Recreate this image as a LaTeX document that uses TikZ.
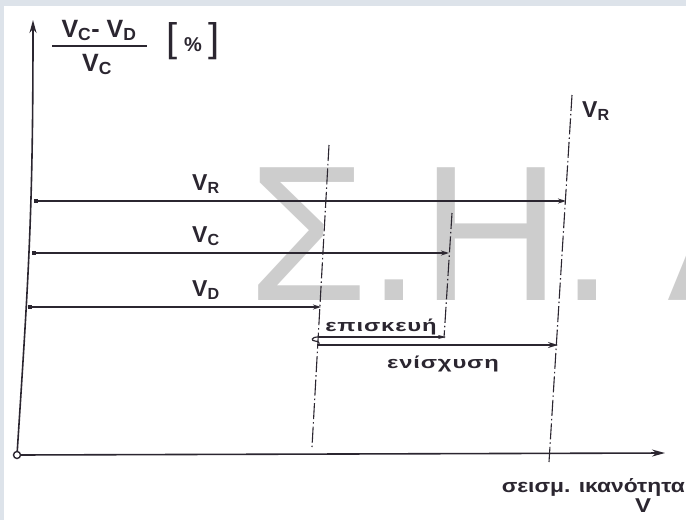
\documentclass[tikz,border=0pt]{standalone}
\usepackage{fontspec}
\setmainfont{Liberation Sans}
\newfontfamily\widegreek[FakeStretch=1.4, LetterSpace=5]{Liberation Sans}
\newfontfamily\capgreek[FakeStretch=1.2]{Liberation Sans}
\usetikzlibrary{arrows.meta}

\def\figw{686}
\def\figh{520}
\definecolor{frameblue}{HTML}{DDE3EA}
\definecolor{wmgray}{HTML}{CDCDCD}
\definecolor{inkdark}{HTML}{2B2630}

\tikzset{
  axisline/.style={draw=inkdark, line width=1.6pt},
  capline/.style={
    draw=inkdark,
    line width=1.3pt,
    {Square[length=4pt,width=4pt]}-{Stealth[length=8pt,width=5pt]}
  },
  limitline/.style={
    draw=inkdark,
    line width=1.1pt,
    dash pattern=on 16pt off 3pt on 1.5pt off 3pt
  },
  lbl/.style={inner sep=0pt, text=inkdark},
}

\begin{document}
\begin{tikzpicture}[x=1pt, y=-1pt, font=\bfseries\fontsize{23}{25}\selectfont]

  \useasboundingbox (0,0) rectangle (\figw,\figh);
  \fill[frameblue] (0,0) rectangle (\figw,\figh);
  \fill[white] (4,6) rectangle (\figw,\figh);

  % --------------------------------------------------------------------
  % Watermark
  % --------------------------------------------------------------------

  \begin{scope}
    \clip (4,6) rectangle (\figw,\figh);
    \node[
      lbl,
      text=wmgray,
      anchor=base west,
      font=\mdseries\fontsize{193}{193}\selectfont
    ] (watermark) at (248,300) {Σ.Η. Λ};
  \end{scope}

  % --------------------------------------------------------------------
  % Axes
  % --------------------------------------------------------------------

  \coordinate (O) at (17,455);
  \coordinate (ytip) at (33,20);
  \coordinate (xtip) at (665,453);

  \draw[axisline, -{Stealth[length=13pt,width=7pt]}]
    (O) .. controls (29,270) and (33,210) .. (ytip);
  \draw[axisline, -{Stealth[length=13pt,width=7pt]}] (O) -- (xtip);
  \filldraw[fill=white, draw=inkdark, line width=1.4pt] (O) circle [radius=3.5pt];

  % y label
  \node[lbl, anchor=base, font=\bfseries\fontsize{25}{27}\selectfont] (num) at (99,37)
    {V\textsubscript{C}- V\textsubscript{D}};
  \coordinate (barL) at (52,46);
  \coordinate (barR) at (147,46);
  \draw[inkdark, line width=1.8pt] (barL) -- (barR);
  \node[lbl, anchor=base, font=\bfseries\fontsize{25}{27}\selectfont] (den) at (97,71)
    {V\textsubscript{C}};
  \node[lbl, anchor=center] (pct) at (193,41)
    {{\mdseries\fontsize{40}{40}\selectfont[}\;{\fontsize{20}{20}\selectfont\%}\;{\mdseries\fontsize{40}{40}\selectfont]}};

  % x label
  \node[lbl, anchor=base east, font=\bfseries\capgreek\fontsize{19}{21}\selectfont] (capacity) at (685,492)
    {σεισμ. ικανότητα};
  \node[lbl, anchor=base, font=\bfseries\capgreek\fontsize{20}{22}\selectfont] (vlab) at (643,512) {V};

  % --------------------------------------------------------------------
  % Capacities V_R, V_C, V_D
  % --------------------------------------------------------------------

  \foreach \nm/\yy/\xl/\xr in {R/201/34/566, C/253/32/449, D/307/28/321}{
    \coordinate (\nm L) at (\xl,\yy);
    \coordinate (\nm R) at (\xr,\yy);
    \draw[capline] (\nm L) -- (\nm R);
    \node[lbl, anchor=base west] (lab\nm) at (192,\yy-11) {V\textsubscript{\nm}};
  }

  % --------------------------------------------------------------------
  % Limit lines
  % --------------------------------------------------------------------

  \foreach \nm/\xt/\yt/\xb/\yb in {D/329/145/312/447, C/452/213/444/338, R/572/95/549/462}{
    \coordinate (top\nm) at (\xt,\yt);
    \coordinate (bot\nm) at (\xb,\yb);
    \draw[limitline] (top\nm) -- (bot\nm);
  }
  \node[lbl, anchor=base west] (labRtop) at (582,117) {V\textsubscript{R}};

  % --------------------------------------------------------------------
  % Repair / strengthening
  % --------------------------------------------------------------------

  \coordinate (Srep) at (318,337);
  \coordinate (Sstr) at (318,345);
  \coordinate (repE) at (446,337);
  \coordinate (strE) at (558,345);

  \draw[inkdark, line width=1.2pt]
    (Srep) .. controls (311,337) and (311,341) .. (315,341)
    .. controls (320,341) and (320,345) .. (Sstr);
  \draw[inkdark, line width=1.3pt, -{Stealth[length=8pt,width=4pt]}] (Srep) -- (repE);
  \draw[inkdark, line width=1.4pt, -{Stealth[length=10pt,width=6pt]}] (Sstr) -- (strE);

  \node[lbl, anchor=base, font=\bfseries\widegreek\fontsize{17}{19}\selectfont] (repair) at (381,331)
    {επισκευή};
  \node[lbl, anchor=base, font=\bfseries\widegreek\fontsize{17}{19}\selectfont] (strength) at (443,368)
    {ενίσχυση};

\end{tikzpicture}
\end{document}
